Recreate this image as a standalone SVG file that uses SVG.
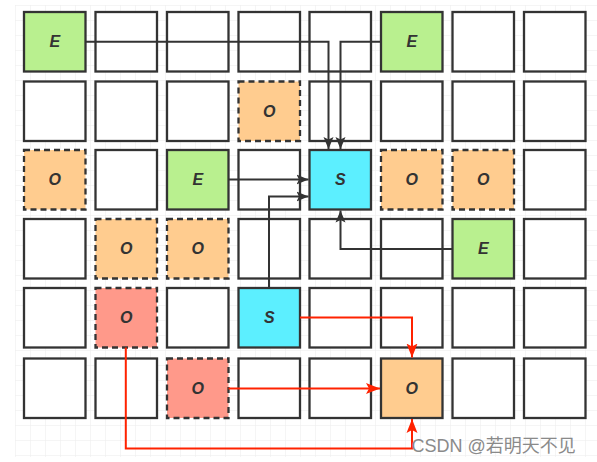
<svg xmlns="http://www.w3.org/2000/svg" width="597" height="462" viewBox="0 0 597 462">
<style>
.cell{stroke:#333;stroke-width:2.3;}
.w{fill:#fff;}
.g{fill:#B9F08F;}
.o{fill:#FFCC8F;}
.r{fill:#FF998A;}
.s{fill:#5CEFFF;}
.d{stroke-dasharray:6 4;}
.t{font-family:"Liberation Sans",Arial,sans-serif;font-size:16px;font-weight:bold;font-style:italic;fill:#333;text-anchor:middle;dominant-baseline:central;}
.bk{fill:none;stroke:#333;stroke-width:2;}
.rd{fill:none;stroke:#FF2200;stroke-width:2;}
</style>
<defs>
<pattern id="grid" x="15" y="5" width="15" height="15" patternUnits="userSpaceOnUse">
<path d="M0,0 H15 M0,0 V15" fill="none" stroke="#ebebeb" stroke-width="1"/>
</pattern>
<marker id="ab" markerUnits="userSpaceOnUse" markerWidth="13" markerHeight="11" refX="12" refY="5.5" orient="auto">
<path d="M0,0.5 L12,5.5 L0,10.5 L2.5,5.5 Z" fill="#333"/>
</marker>
<marker id="ar" markerUnits="userSpaceOnUse" markerWidth="15" markerHeight="12" refX="14" refY="6" orient="auto">
<path d="M0,0.5 L14,6 L0,11.5 L3,6 Z" fill="#FF2200"/>
</marker>
</defs>
<rect x="0" y="0" width="597" height="462" fill="#fff"/>
<rect x="15" y="5" width="582" height="452" fill="url(#grid)"/>

<g id="r0c0"><rect class="cell g" x="24" y="12" width="61.5" height="59.5"/><text class="t" x="54.75" y="41.75">E</text></g>
<g id="r0c1"><rect class="cell w" x="95.5" y="12" width="61.5" height="59.5"/></g>
<g id="r0c2"><rect class="cell w" x="167" y="12" width="61.5" height="59.5"/></g>
<g id="r0c3"><rect class="cell w" x="238.5" y="12" width="61.5" height="59.5"/></g>
<g id="r0c4"><rect class="cell w" x="309.5" y="12" width="61.5" height="59.5"/></g>
<g id="r0c5"><rect class="cell g" x="381" y="12" width="61.5" height="59.5"/><text class="t" x="411.75" y="41.75">E</text></g>
<g id="r0c6"><rect class="cell w" x="452.5" y="12" width="61.5" height="59.5"/></g>
<g id="r0c7"><rect class="cell w" x="524" y="12" width="61.5" height="59.5"/></g>

<g id="r1c0"><rect class="cell w" x="24" y="81.5" width="61.5" height="59.5"/></g>
<g id="r1c1"><rect class="cell w" x="95.5" y="81.5" width="61.5" height="59.5"/></g>
<g id="r1c2"><rect class="cell w" x="167" y="81.5" width="61.5" height="59.5"/></g>
<g id="r1c3"><rect class="cell o d" x="238.5" y="81.5" width="61.5" height="59.5"/><text class="t" x="269.25" y="111.25">O</text></g>
<g id="r1c4"><rect class="cell w" x="309.5" y="81.5" width="61.5" height="59.5"/></g>
<g id="r1c5"><rect class="cell w" x="381" y="81.5" width="61.5" height="59.5"/></g>
<g id="r1c6"><rect class="cell w" x="452.5" y="81.5" width="61.5" height="59.5"/></g>
<g id="r1c7"><rect class="cell w" x="524" y="81.5" width="61.5" height="59.5"/></g>

<g id="r2c0"><rect class="cell o d" x="24" y="150" width="61.5" height="59.5"/><text class="t" x="54.75" y="179.75">O</text></g>
<g id="r2c1"><rect class="cell w" x="95.5" y="150" width="61.5" height="59.5"/></g>
<g id="r2c2"><rect class="cell g" x="167" y="150" width="61.5" height="59.5"/><text class="t" x="197.75" y="179.75">E</text></g>
<g id="r2c3"><rect class="cell w" x="238.5" y="150" width="61.5" height="59.5"/></g>
<g id="r2c4"><rect class="cell s" x="309.5" y="150" width="61.5" height="59.5"/><text class="t" x="340.25" y="179.75">S</text></g>
<g id="r2c5"><rect class="cell o d" x="381" y="150" width="61.5" height="59.5"/><text class="t" x="411.75" y="179.75">O</text></g>
<g id="r2c6"><rect class="cell o d" x="452.5" y="150" width="61.5" height="59.5"/><text class="t" x="483.25" y="179.75">O</text></g>
<g id="r2c7"><rect class="cell w" x="524" y="150" width="61.5" height="59.5"/></g>

<g id="r3c0"><rect class="cell w" x="24" y="219" width="61.5" height="59.5"/></g>
<g id="r3c1"><rect class="cell o d" x="95.5" y="219" width="61.5" height="59.5"/><text class="t" x="126.25" y="248.75">O</text></g>
<g id="r3c2"><rect class="cell o d" x="167" y="219" width="61.5" height="59.5"/><text class="t" x="197.75" y="248.75">O</text></g>
<g id="r3c3"><rect class="cell w" x="238.5" y="219" width="61.5" height="59.5"/></g>
<g id="r3c4"><rect class="cell w" x="309.5" y="219" width="61.5" height="59.5"/></g>
<g id="r3c5"><rect class="cell w" x="381" y="219" width="61.5" height="59.5"/></g>
<g id="r3c6"><rect class="cell g" x="452.5" y="219" width="61.5" height="59.5"/><text class="t" x="483.25" y="248.75">E</text></g>
<g id="r3c7"><rect class="cell w" x="524" y="219" width="61.5" height="59.5"/></g>

<g id="r4c0"><rect class="cell w" x="24" y="288" width="61.5" height="59.5"/></g>
<g id="r4c1"><rect class="cell r d" x="95.5" y="288" width="61.5" height="59.5"/><text class="t" x="126.25" y="317.75">O</text></g>
<g id="r4c2"><rect class="cell w" x="167" y="288" width="61.5" height="59.5"/></g>
<g id="r4c3"><rect class="cell s" x="238.5" y="288" width="61.5" height="59.5"/><text class="t" x="269.25" y="317.75">S</text></g>
<g id="r4c4"><rect class="cell w" x="309.5" y="288" width="61.5" height="59.5"/></g>
<g id="r4c5"><rect class="cell w" x="381" y="288" width="61.5" height="59.5"/></g>
<g id="r4c6"><rect class="cell w" x="452.5" y="288" width="61.5" height="59.5"/></g>
<g id="r4c7"><rect class="cell w" x="524" y="288" width="61.5" height="59.5"/></g>

<g id="r5c0"><rect class="cell w" x="24" y="358.5" width="61.5" height="59.5"/></g>
<g id="r5c1"><rect class="cell w" x="95.5" y="358.5" width="61.5" height="59.5"/></g>
<g id="r5c2"><rect class="cell r d" x="167" y="358.5" width="61.5" height="59.5"/><text class="t" x="197.75" y="388.25">O</text></g>
<g id="r5c3"><rect class="cell w" x="238.5" y="358.5" width="61.5" height="59.5"/></g>
<g id="r5c4"><rect class="cell w" x="309.5" y="358.5" width="61.5" height="59.5"/></g>
<g id="r5c5"><rect class="cell o" x="381" y="358.5" width="61.5" height="59.5"/><text class="t" x="411.75" y="388.25">O</text></g>
<g id="r5c6"><rect class="cell w" x="452.5" y="358.5" width="61.5" height="59.5"/></g>
<g id="r5c7"><rect class="cell w" x="524" y="358.5" width="61.5" height="59.5"/></g>

<g id="connectors">
<path class="bk" d="M85.5,41.7 H328.5 V149" marker-end="url(#ab)"/>
<path class="bk" d="M381,41.7 H340.5 V149" marker-end="url(#ab)"/>
<path class="bk" d="M228.5,179.5 H308.5" marker-end="url(#ab)"/>
<path class="bk" d="M269,288 V196.5 H308.5" marker-end="url(#ab)"/>
<path class="bk" d="M452.5,249 H340.5 V210.5" marker-end="url(#ab)"/>
<path class="rd" d="M300,317.5 H412 V357.5" marker-end="url(#ar)"/>
<path class="rd" d="M228.5,388.5 H380" marker-end="url(#ar)"/>
<path class="rd" d="M125.8,347.5 V448.5 H412 V419" marker-end="url(#ar)"/>
</g>
<text x="411.5" y="451.5" font-family="'Liberation Sans','Noto Sans CJK SC',sans-serif" font-size="18" fill="#8a8a8a">CSDN @若明天不见</text>
</svg>
